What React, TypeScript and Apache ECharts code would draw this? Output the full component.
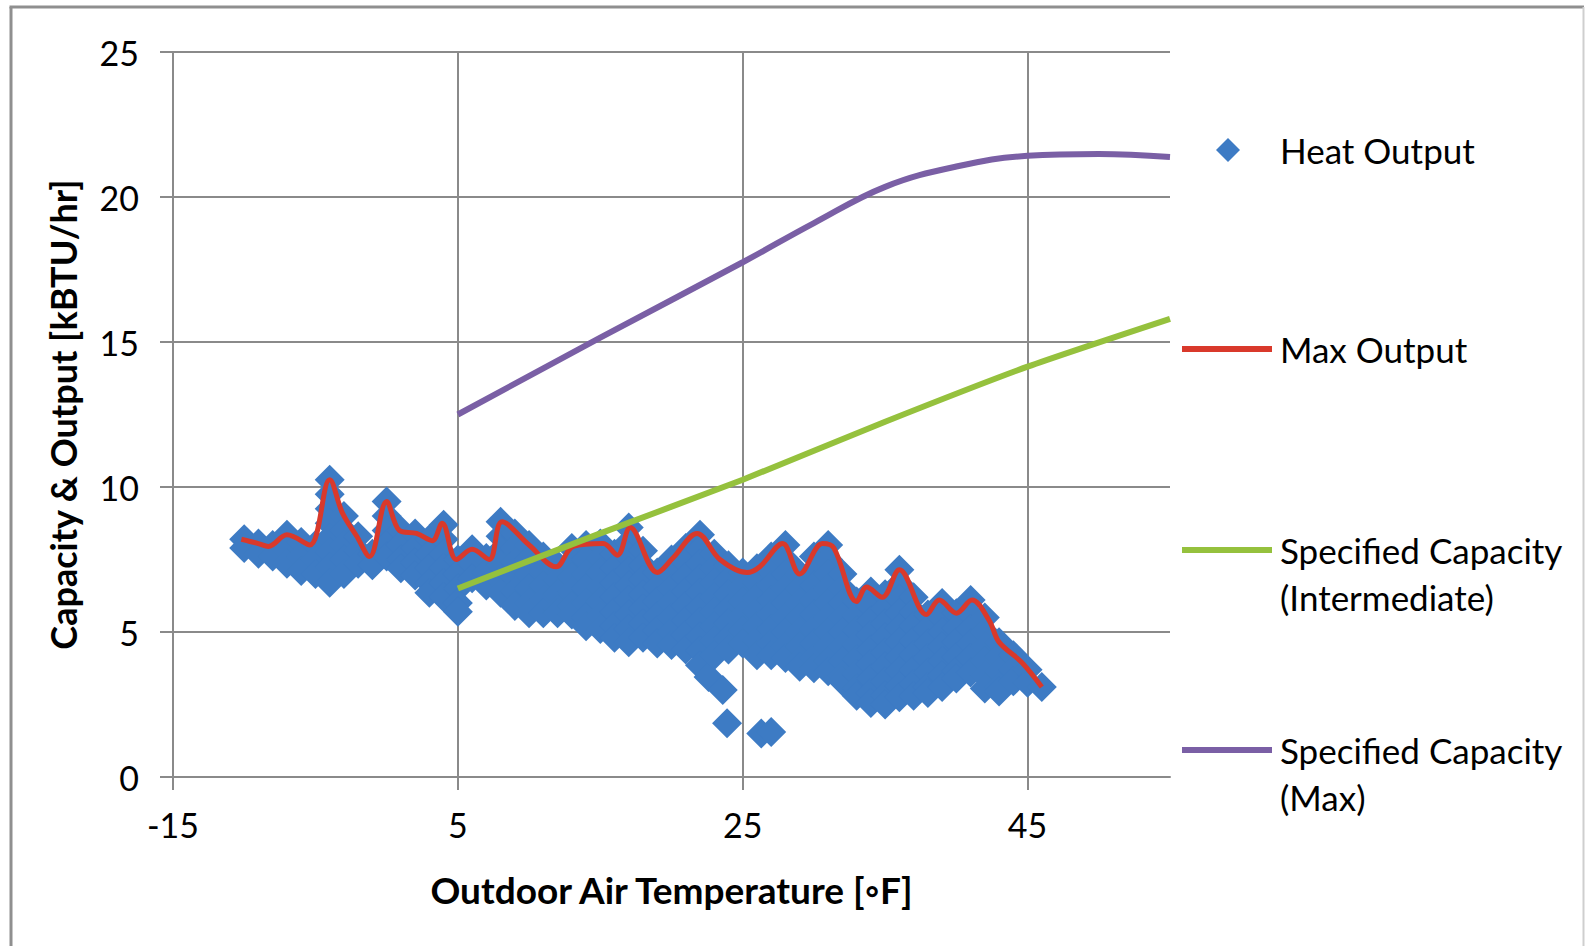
import React, { useEffect, useRef } from "react";
import * as echarts from "echarts";

// ---------- data ----------
const xTicks = [-15, 5, 25, 45];

// Heat Output scatter: each column = [outdoor temp, heat output values]
const heatColumns: [number, number[]][] = [
  [-10, [8.2, 7.9]],
  [-9, [8.05, 7.7]],
  [-8, [8.0, 7.6]],
  [-7, [8.35, 7.85, 7.35]],
  [-6, [8.1, 7.6, 7.1]],
  [-5, [8.0, 7.5, 7.0]],
  [-4, [10.25, 9.75, 9.25, 8.75, 8.25, 7.75, 7.25, 6.7]],
  [-3, [9.0, 8.5, 8.0, 7.5, 7.0]],
  [-2, [8.3, 7.8, 7.35]],
  [-1, [7.7, 7.3]],
  [0, [9.5, 9.0, 8.5, 8.0, 7.6]],
  [1, [8.5, 8.0, 7.5, 7.2]],
  [2, [8.4, 7.9, 7.4, 6.95]],
  [3, [8.2, 7.7, 7.2, 6.7, 6.35]],
  [4, [8.7, 8.2, 7.7, 7.2, 6.7, 6.2]],
  [5, [7.5, 7.0, 6.5, 6.0, 5.7]],
  [6, [7.85, 7.35, 6.85]],
  [7, [7.55, 7.05, 6.6]],
  [8, [8.8, 8.3, 7.8, 7.3, 6.8, 6.35]],
  [9, [8.4, 7.9, 7.4, 6.9, 6.4, 5.9]],
  [10, [8.0, 7.5, 7.0, 6.5, 6.0, 5.65]],
  [11, [7.6, 7.1, 6.6, 6.1, 5.65]],
  [12, [7.3, 6.8, 6.3, 5.8, 5.65]],
  [13, [7.9, 7.4, 6.9, 6.4, 5.9, 5.6]],
  [14, [8.0, 7.5, 7.0, 6.5, 6.0, 5.5, 5.2]],
  [15, [8.05, 7.55, 7.05, 6.55, 6.05, 5.55, 5.1]],
  [16, [7.7, 7.2, 6.7, 6.2, 5.7, 5.2, 4.8]],
  [17, [8.6, 8.1, 7.6, 7.1, 6.6, 6.1, 5.6, 5.1, 4.65]],
  [18, [7.8, 7.3, 6.8, 6.3, 5.8, 5.3, 4.8]],
  [19, [7.05, 6.55, 6.05, 5.55, 5.05, 4.6]],
  [20, [7.5, 7.0, 6.5, 6.0, 5.5, 5.0, 4.55]],
  [21, [7.9, 7.4, 6.9, 6.4, 5.9, 5.4, 4.9, 4.4]],
  [22, [8.35, 7.85, 7.35, 6.85, 6.35, 5.85, 5.35, 4.85, 4.35, 3.85]],
  [22.6, [3.45]],
  [23, [7.7, 7.2, 6.7, 6.2, 5.7, 5.2, 4.7, 4.2]],
  [23.6, [3.0]],
  [23.9, [1.85]],
  [24, [7.3, 6.8, 6.3, 5.8, 5.3, 4.8, 4.4]],
  [25, [7.05, 6.55, 6.05, 5.55, 5.05, 4.6]],
  [26, [7.2, 6.7, 6.2, 5.7, 5.2, 4.7, 4.2]],
  [26.3, [1.5]],
  [27, [7.6, 7.1, 6.6, 6.1, 5.6, 5.1, 4.6, 4.2, 1.55]],
  [28, [8.0, 7.5, 7.0, 6.5, 6.0, 5.5, 5.0, 4.5, 4.1]],
  [29, [7.0, 6.5, 6.0, 5.5, 5.0, 4.5, 4.0, 3.8]],
  [30, [7.6, 7.1, 6.6, 6.1, 5.6, 5.1, 4.6, 4.1, 3.75]],
  [31, [8.0, 7.5, 7.0, 6.5, 6.0, 5.5, 5.0, 4.5, 4.0, 3.65]],
  [32, [7.0, 6.5, 6.0, 5.5, 5.0, 4.5, 4.0, 3.5, 3.3]],
  [33, [6.05, 5.55, 5.05, 4.55, 4.05, 3.55, 3.05, 2.8]],
  [34, [6.4, 5.9, 5.4, 4.9, 4.4, 3.9, 3.4, 2.9, 2.55]],
  [35, [6.3, 5.8, 5.3, 4.8, 4.3, 3.8, 3.3, 2.8, 2.5]],
  [36, [7.15, 6.65, 6.15, 5.65, 5.15, 4.65, 4.15, 3.65, 3.15, 2.75]],
  [37, [6.2, 5.7, 5.2, 4.7, 4.2, 3.7, 3.2, 2.8]],
  [38, [5.6, 5.1, 4.6, 4.1, 3.6, 3.1, 2.9]],
  [39, [6.0, 5.5, 5.0, 4.5, 4.0, 3.5, 3.1]],
  [40, [5.65, 5.15, 4.65, 4.15, 3.65, 3.4]],
  [41, [6.1, 5.6, 5.1, 4.6, 4.1, 3.6]],
  [42, [5.5, 5.0, 4.5, 4.0, 3.5, 3.05]],
  [43, [4.65, 4.15, 3.65, 3.1, 2.95]],
  [44, [4.2, 3.7, 3.3]],
  [45, [3.7, 3.25]],
  [46, [3.1]],
];

const maxOutput: [number, number][] = [
  [-10.2, 8.2], [-9, 8.05], [-8.3, 7.95], [-7, 8.35], [-5.4, 8.0], [-4, 10.25],
  [-3.1, 9.1], [-2.1, 8.3], [-1.2, 7.6], [0, 9.5], [0.9, 8.5], [2.1, 8.4],
  [3.2, 8.15], [3.9, 8.75], [4.9, 7.5], [6.0, 7.85], [7.2, 7.5], [8.1, 8.8],
  [10.0, 8.0], [11.9, 7.25], [13.1, 7.95], [15.2, 8.05], [16.2, 7.65], [17.1, 8.6],
  [19.0, 7.05], [20.1, 7.55], [21.8, 8.4], [23.4, 7.5], [25.3, 7.05], [26.2, 7.25],
  [27.8, 8.05], [29.0, 7.0], [30.6, 8.05], [31.4, 7.9], [33.0, 6.05], [33.7, 6.55],
  [34.8, 6.2], [36.0, 7.15], [37.9, 5.6], [38.8, 6.1], [40.0, 5.65], [41.1, 6.1],
  [42.3, 5.4], [43.0, 4.65], [44.6, 3.95], [46.0, 3.1],
];

const specIntermediate: [number, number][] = [
  [5, 6.5], [15, 8.4], [25, 10.25], [35, 12.25], [45, 14.15], [55, 15.8],
];

const specMax: [number, number][] = [
  [5, 12.5], [15, 15.15], [25, 17.75], [30, 19.1], [35, 20.35], [40, 21.05],
  [45, 21.42], [50, 21.48], [55, 21.38],
];

// ---------- styles ----------
const FONT = "Lato, 'DejaVu Sans', sans-serif";
const BLUE = "#3d7bc4";
const RED = "#d9392b";
const GREEN = "#95c13d";
const PURPLE = "#7a5fa5";
const GRID = "#8a8a8a";

export default function App() {
  const ref = useRef<HTMLDivElement>(null);

  useEffect(() => {
    if (!ref.current) return;
    const chart = echarts.init(ref.current, null, { renderer: "svg" });
    const heatData = heatColumns.flatMap(([x, ys]) => ys.map((y) => [x, y]));

    const legendText = (padLeft: number) => ({
      fontFamily: FONT,
      fontSize: 35,
      lineHeight: 47,
      color: "#000",
      padding: [0, 0, 0, padLeft],
    });

    chart.setOption({
      animation: false,
      backgroundColor: "#ffffff",
      textStyle: { fontFamily: FONT },
      grid: { left: 173, top: 52, width: 997, height: 725 },
      xAxis: {
        type: "value",
        min: -15,
        max: 55,
        name: "Outdoor Air Temperature [◦F]",
        nameLocation: "middle",
        nameGap: 94,
        nameTextStyle: { fontFamily: FONT, fontSize: 37, fontWeight: "bold", color: "#000" },
        axisLine: { show: true, onZero: false, lineStyle: { color: GRID, width: 2 } },
        axisTick: { show: true, inside: false, length: 13, customValues: xTicks, lineStyle: { color: GRID, width: 2 } },
        axisLabel: { customValues: xTicks, margin: 30, fontSize: 34, color: "#000", fontFamily: FONT },
        splitLine: { show: true, lineStyle: { color: GRID, width: 2 } },
      },
      yAxis: {
        type: "value",
        min: 0,
        max: 25,
        interval: 5,
        name: "Capacity & Output [kBTU/hr]",
        nameLocation: "middle",
        nameGap: 92,
        nameTextStyle: { fontFamily: FONT, fontSize: 36, fontWeight: "bold", color: "#000" },
        axisLine: { show: true, onZero: false, lineStyle: { color: GRID, width: 2 } },
        axisTick: { show: true, inside: false, length: 13, lineStyle: { color: GRID, width: 2 } },
        axisLabel: { margin: 34, fontSize: 34, color: "#000", fontFamily: FONT },
        splitLine: { show: true, lineStyle: { color: GRID, width: 2 } },
      },
      legend: [
        {
          data: ["Heat Output"], left: 1216, top: 126.5, padding: 0, selectedMode: false,
          icon: "diamond", itemWidth: 24, itemHeight: 24, itemStyle: { color: BLUE },
          textStyle: legendText(35),
        },
        {
          data: ["Max Output"], left: 1182, top: 325.5, padding: 0, selectedMode: false,
          icon: "rect", itemWidth: 90, itemHeight: 6, itemStyle: { color: RED },
          textStyle: legendText(3),
        },
        {
          data: ["Specified Capacity (Intermediate)"], left: 1182, top: 479.5, padding: 0, selectedMode: false,
          icon: "rect", itemWidth: 90, itemHeight: 6, itemStyle: { color: GREEN },
          formatter: () => "\nSpecified Capacity\n(Intermediate)",
          textStyle: legendText(3),
        },
        {
          data: ["Specified Capacity (Max)"], left: 1182, top: 679.5, padding: 0, selectedMode: false,
          icon: "rect", itemWidth: 90, itemHeight: 6, itemStyle: { color: PURPLE },
          formatter: () => "\nSpecified Capacity\n(Max)",
          textStyle: legendText(3),
        },
      ],
      series: [
        {
          name: "Heat Output",
          type: "scatter",
          symbol: "diamond",
          symbolSize: 30,
          itemStyle: { color: BLUE, opacity: 1 },
          data: heatData,
        },
        {
          name: "Max Output",
          type: "line",
          symbol: "none",
          showSymbol: false,
          smooth: 0.35,
          lineStyle: { color: RED, width: 5 },
          itemStyle: { color: RED },
          data: maxOutput,
        },
        {
          name: "Specified Capacity (Intermediate)",
          type: "line",
          symbol: "none",
          showSymbol: false,
          smooth: 0.2,
          lineStyle: { color: GREEN, width: 6 },
          itemStyle: { color: GREEN },
          data: specIntermediate,
        },
        {
          name: "Specified Capacity (Max)",
          type: "line",
          symbol: "none",
          showSymbol: false,
          smooth: 0.4,
          lineStyle: { color: PURPLE, width: 6 },
          itemStyle: { color: PURPLE },
          data: specMax,
        },
      ],
      graphic: [
        { type: "line", shape: { x1: 9.5, y1: 7, x2: 1584, y2: 7 }, style: { stroke: "#8f8f8f", lineWidth: 3 } },
        { type: "line", shape: { x1: 11, y1: 7, x2: 11, y2: 946 }, style: { stroke: "#8f8f8f", lineWidth: 3 } },
        { type: "line", shape: { x1: 1583.5, y1: 7, x2: 1583.5, y2: 946 }, style: { stroke: "#cfcfcf", lineWidth: 2 } },
      ],
    });

    return () => chart.dispose();
  }, []);

  return (
    <div
      ref={ref}
      style={{ position: "absolute", left: 0, top: 0, width: 1585, height: 946 }}
    />
  );
}
